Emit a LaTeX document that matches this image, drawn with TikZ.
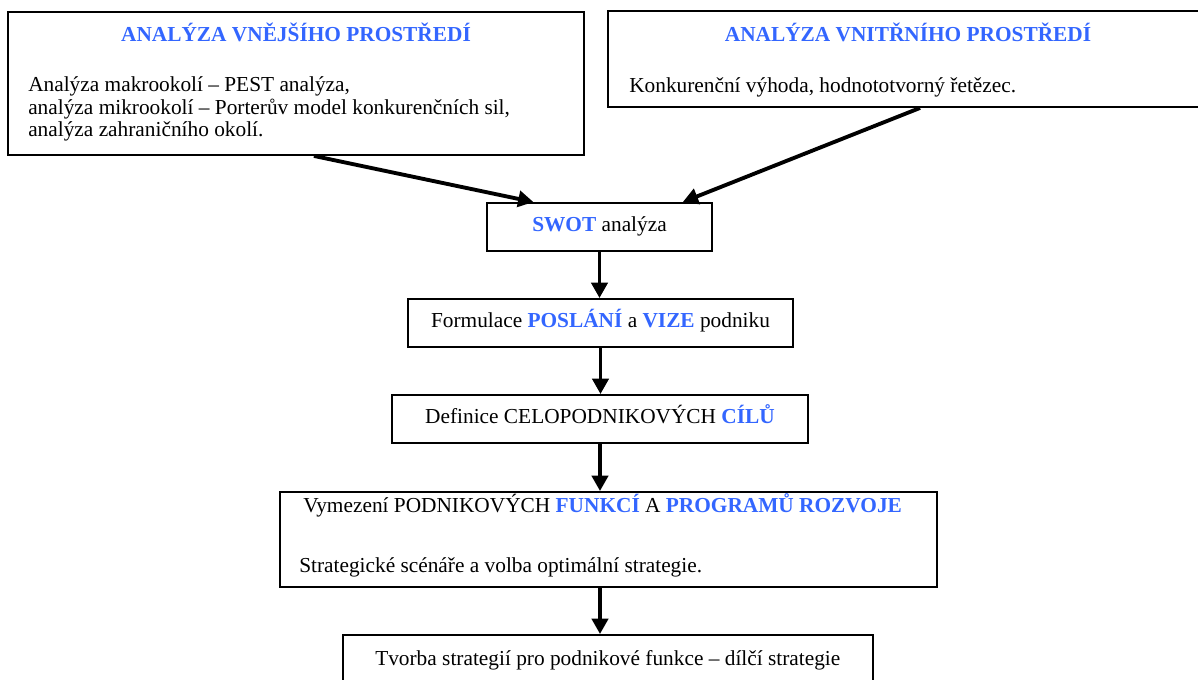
\documentclass[tikz,border=0pt]{standalone}
\usepackage{fontspec}
\setmainfont{Liberation Serif}
\usetikzlibrary{arrows.meta,calc}
\definecolor{swotblue}{HTML}{3366FF}
\newcommand{\hilite}[1]{\textbf{\textcolor{swotblue}{#1}}}
\tikzset{
  panel/.style={
    draw=black,
    line width=1.4pt,
    fill=white,
    inner sep=0pt
  },
  txt/.style={
    font=\fontsize{16pt}{17pt}\selectfont,
    inner sep=0pt,
    align=left
  },
  headline/.style={txt, font=\fontsize{16pt}{17pt}\selectfont\bfseries, text=swotblue},
  stepbox/.style={
    panel,
    font=\fontsize{16pt}{17pt}\selectfont,
    minimum height=36pt,
    text height=0.86em,
    text depth=0.2em
  },
  flow/.style={-{Triangle[length=11.5pt,width=12pt]}, line width=2.9pt, draw=black}
}

\begin{document}
\begin{tikzpicture}[x=0.75pt,y=-0.75pt]

\useasboundingbox (0,0) rectangle (1198,680);
\fill[white] (0,0) rectangle (1198,680);
\clip (0,0) rectangle (1198,680);

% Environment analyses
\node[panel, minimum width=432pt, minimum height=107.25pt] (vnejsi) at (296,83.5) {};
\node[headline, anchor=base] (vnejsititle) at (296,42) {ANALÝZA VNĚJŠÍHO PROSTŘEDÍ};
\node[txt, anchor=base west] (vnejsitext) at (28,137) {Analýza makrookolí – PEST analýza,\\analýza mikrookolí – Porterův model konkurenčních sil,\\analýza zahraničního okolí.};

\node[panel, minimum width=450pt, minimum height=72pt] (vnitrni) at (908,59) {};
\node[headline, anchor=base] (vnitrnititle) at (908,42) {ANALÝZA VNITŘNÍHO PROSTŘEDÍ};
\node[txt, anchor=base west] (vnitrnitext) at (629,93) {Konkurenční výhoda, hodnototvorný řetězec.};

% Main chain
\node[stepbox, minimum width=168.75pt] (swot) at (599.5,227) {\hilite{SWOT} analýza};
\node[stepbox, minimum width=288.75pt] (poslani) at (600.5,323) {Formulace \hilite{POSLÁNÍ} a \hilite{VIZE} podniku};
\node[stepbox, minimum width=312pt] (cile) at (600,419) {Definice CELOPODNIKOVÝCH \hilite{CÍLŮ}};

\node[panel, minimum width=492.75pt, minimum height=71.25pt] (funkce) at (608.5,539.5) {};
\node[txt, anchor=base west] (funkcetitle) at (303,512) {Vymezení PODNIKOVÝCH \hilite{FUNKCÍ} A \hilite{PROGRAMŮ ROZVOJE}};
\node[txt, anchor=base west] (funkcetext) at (299,572) {Strategické scénáře a volba optimální strategie.};

\node[panel, minimum width=397.5pt, minimum height=36pt] (dilci) at (608,659) {};
\node[txt, anchor=base west] (dilcitext) at (375,665) {Tvorba strategií pro podnikové funkce – dílčí strategie};

\draw[flow] ($(vnejsi.south west)!0.531!(vnejsi.south east)$) -- ($(swot.north west)!0.209!(swot.north east)$);
\draw[flow] ($(vnitrni.south west)!0.52!(vnitrni.south east)$) -- ($(swot.north west)!0.867!(swot.north east)$);
\draw[flow] (swot.south) -- (swot.south |- poslani.north);
\draw[flow] (poslani.south) -- (poslani.south |- cile.north);
\draw[flow] (cile.south) -- (cile.south |- funkce.north);
\draw[flow] (cile.south |- funkce.south) -- (cile.south |- dilci.north);

\end{tikzpicture}
\end{document}
